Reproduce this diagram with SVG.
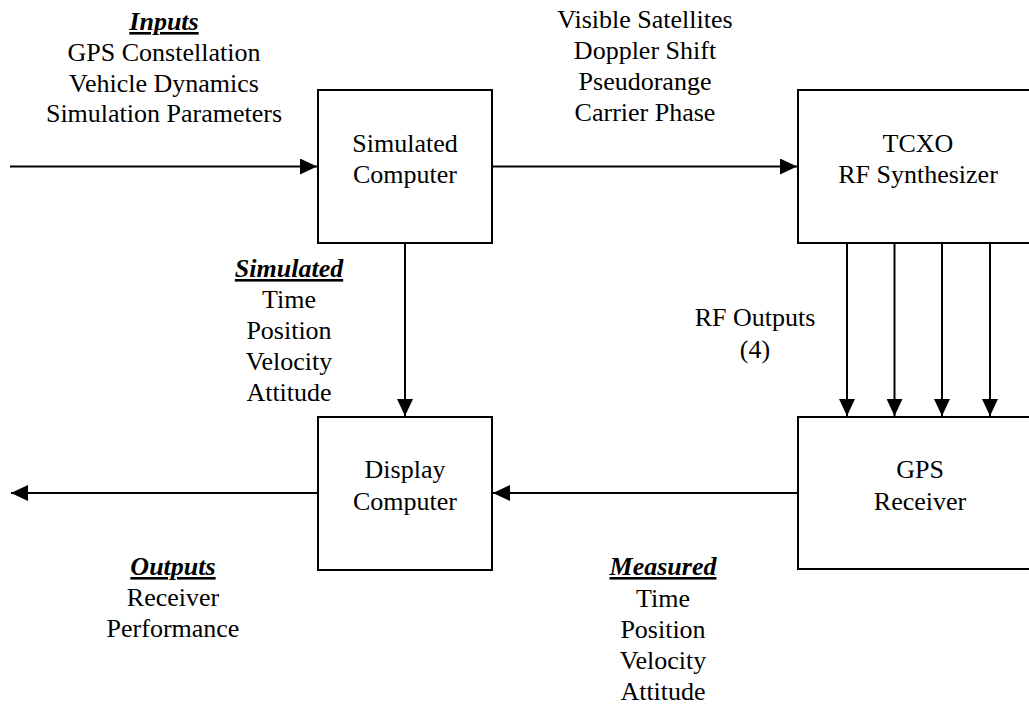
<svg xmlns="http://www.w3.org/2000/svg" width="1029" height="707" viewBox="0 0 1029 707">
<style>
text{font-size:26px;fill:#000;text-anchor:middle}
.h{font-weight:bold;font-style:italic;text-decoration:underline}
.box{fill:#fff;stroke:#000;stroke-width:2}
.ln{stroke:#000;stroke-width:2;fill:none}
</style>
<defs>
<marker id="ah" markerUnits="userSpaceOnUse" markerWidth="17" markerHeight="16" refX="17" refY="8" orient="auto">
<path d="M0,0 L17,8 L0,16 Z" fill="#000"/>
</marker>
</defs>
<g font-family="Liberation Serif, Times New Roman, serif">
<g id="connectors">
<line class="ln" x1="10" y1="166.5" x2="317" y2="166.5" marker-end="url(#ah)"/>
<line class="ln" x1="492" y1="166.5" x2="797" y2="166.5" marker-end="url(#ah)"/>
<line class="ln" x1="405" y1="243" x2="405" y2="416" marker-end="url(#ah)"/>
<line class="ln" x1="847" y1="243" x2="847" y2="416" marker-end="url(#ah)"/>
<line class="ln" x1="894.5" y1="243" x2="894.5" y2="416" marker-end="url(#ah)"/>
<line class="ln" x1="942" y1="243" x2="942" y2="416" marker-end="url(#ah)"/>
<line class="ln" x1="990" y1="243" x2="990" y2="416" marker-end="url(#ah)"/>
<line class="ln" x1="798" y1="493" x2="493" y2="493" marker-end="url(#ah)"/>
<line class="ln" x1="318" y1="493" x2="11" y2="493" marker-end="url(#ah)"/>
</g>
<g id="sim-computer">
<rect class="box" x="318" y="90" width="174" height="153"/>
<text x="405" y="152">Simulated</text>
<text x="405" y="183">Computer</text>
</g>
<g id="tcxo">
<rect class="box" x="798" y="90" width="260" height="153"/>
<text x="918" y="152">TCXO</text>
<text x="918" y="183">RF Synthesizer</text>
</g>
<g id="gps-receiver">
<rect class="box" x="798" y="417" width="260" height="152"/>
<text x="920" y="478">GPS</text>
<text x="920" y="510">Receiver</text>
</g>
<g id="display-computer">
<rect class="box" x="318" y="417" width="174" height="153"/>
<text x="405" y="478">Display</text>
<text x="405" y="510">Computer</text>
</g>
<g id="labels">
<text x="164" y="30" class="h">Inputs</text>
<text x="164" y="61">GPS Constellation</text>
<text x="164" y="92">Vehicle Dynamics</text>
<text x="164" y="122">Simulation Parameters</text>
<text x="645" y="28">Visible Satellites</text>
<text x="645" y="59">Doppler Shift</text>
<text x="645" y="90">Pseudorange</text>
<text x="645" y="121">Carrier Phase</text>
<text x="289" y="277" class="h">Simulated</text>
<text x="289" y="308">Time</text>
<text x="289" y="339">Position</text>
<text x="289" y="370">Velocity</text>
<text x="289" y="401">Attitude</text>
<text x="755" y="326">RF Outputs</text>
<text x="755" y="358">(4)</text>
<text x="173" y="575" class="h">Outputs</text>
<text x="173" y="606">Receiver</text>
<text x="173" y="637">Performance</text>
<text x="663" y="575" class="h">Measured</text>
<text x="663" y="607">Time</text>
<text x="663" y="638">Position</text>
<text x="663" y="669">Velocity</text>
<text x="663" y="700">Attitude</text>
</g>
</g>
</svg>
